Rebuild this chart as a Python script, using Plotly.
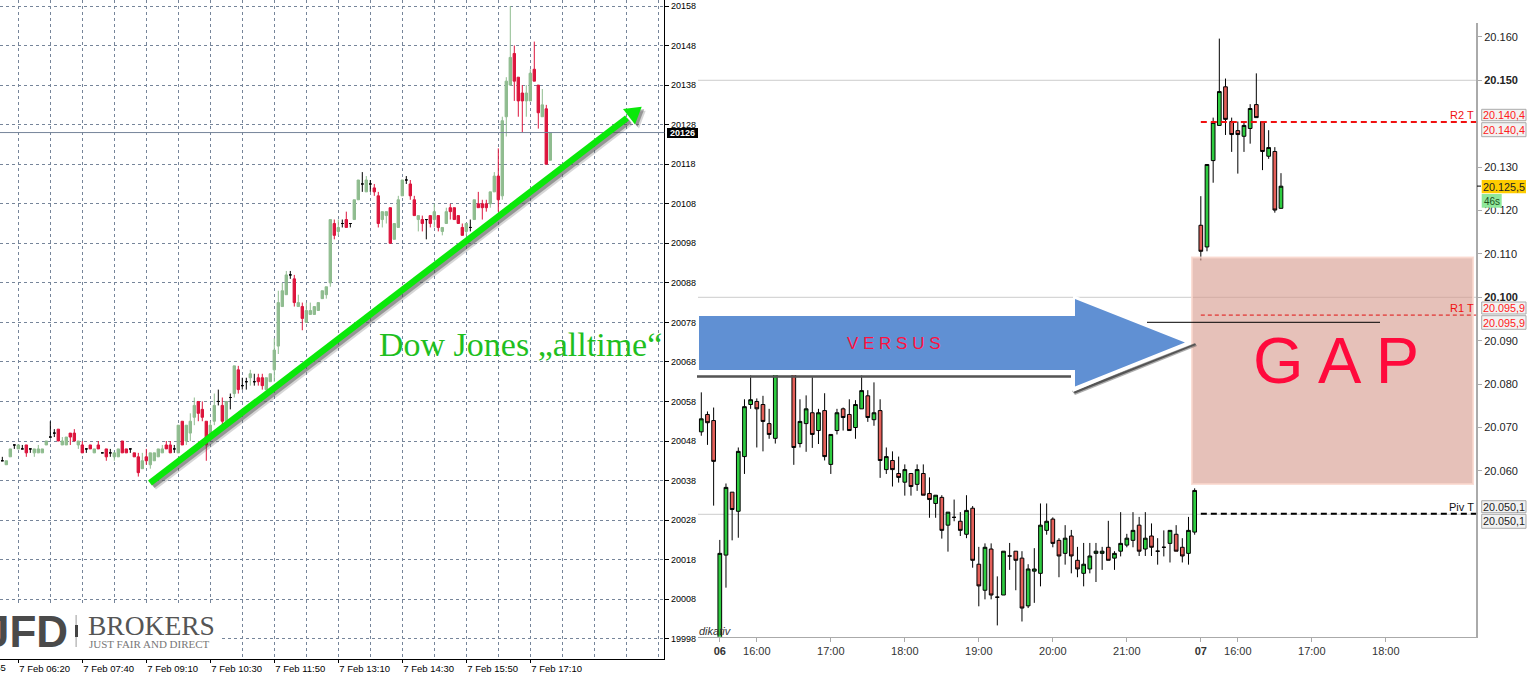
import plotly.graph_objects as go

W, H = 1528, 673

# ---------- left chart (MT4 style, 5 minute bars) ----------
l_open = [20043,20042,20044,20047,20046,20046,20047,20046,20045,20045,20045,20047,20049,20050,20051,20047,20047,20050,20050,20047,
 20047,20046,20047,20045,20047,20045,20046,20045,20044,20044,20048,20046,20046,20045,20044,20041,20044,20042,20043,20044,
 20045,20047,20047,20046,20045,20053,20048,20050,20054,20058,20056,20053,20049,20053,20058,20057,20053,20059,20060,20066,
 20062,20063,20064,20063,20064,20064,20061,20063,20066,20072,20082,20085,20090,20089,20082,20082,20078,20080,20080,20081,
 20084,20085,20088,20103,20101,20103,20104,20103,20104,20109,20113,20111,20113,20112,20110,20104,20105,20107,20099,20102,
 20110,20114,20113,20109,20104,20104,20104,20105,20104,20105,20101,20103,20107,20107,20105,20102,20101,20102,20104,20108,
 20108,20108,20108,20111,20115,20110,20130,20138,20146,20140,20136,20134,20134,20142,20138,20130,20132,20119]
l_high = [20044,20043,20046,20047,20047,20047,20047,20046,20046,20047,20046,20048,20053,20051,20051,20049,20049,20050,20051,20048,
 20048,20046,20047,20046,20048,20045,20046,20046,20045,20046,20048,20046,20046,20045,20045,20045,20046,20045,20045,20046,
 20047,20048,20048,20047,20052,20053,20052,20055,20059,20058,20058,20053,20053,20060,20061,20059,20058,20060,20067,20067,
 20064,20064,20066,20065,20065,20065,20064,20065,20074,20086,20088,20091,20091,20090,20085,20083,20083,20083,20082,20083,
 20086,20087,20104,20104,20104,20104,20106,20103,20109,20114,20116,20115,20114,20113,20111,20106,20106,20107,20103,20110,
 20114,20115,20114,20110,20105,20105,20104,20105,20108,20105,20102,20107,20108,20107,20105,20103,20103,20104,20109,20111,
 20109,20109,20111,20116,20122,20130,20140,20158,20148,20140,20138,20138,20142,20149,20138,20137,20133,20126]
l_low = [20043,20042,20044,20046,20046,20046,20044,20045,20044,20045,20045,20047,20049,20049,20048,20047,20047,20047,20048,20046,
 20045,20045,20046,20045,20046,20045,20043,20044,20043,20044,20045,20045,20045,20044,20039,20041,20042,20041,20043,20044,
 20045,20046,20045,20045,20045,20047,20047,20048,20052,20053,20053,20043,20049,20052,20057,20052,20053,20056,20059,20060,
 20061,20061,20062,20062,20062,20061,20061,20063,20063,20070,20082,20085,20089,20082,20082,20076,20078,20080,20080,20081,
 20084,20084,20087,20099,20100,20102,20102,20102,20104,20109,20111,20111,20111,20110,20102,20102,20103,20098,20099,20102,
 20110,20113,20109,20105,20101,20101,20099,20102,20102,20101,20100,20103,20104,20104,20103,20100,20100,20101,20104,20107,
 20104,20106,20107,20111,20106,20109,20125,20138,20134,20130,20126,20130,20134,20139,20127,20130,20118,20119]
l_close = [20043,20043,20046,20047,20047,20046,20045,20046,20046,20046,20046,20048,20049,20050,20048,20048,20049,20049,20048,20048,
 20045,20046,20046,20046,20046,20045,20044,20045,20045,20046,20045,20045,20046,20044,20040,20043,20043,20045,20045,20046,
 20046,20046,20045,20046,20052,20047,20052,20053,20057,20055,20054,20047,20052,20057,20058,20053,20058,20059,20067,20061,
 20062,20063,20065,20063,20063,20062,20064,20065,20071,20083,20086,20090,20090,20083,20083,20079,20081,20081,20082,20083,
 20086,20087,20104,20100,20102,20103,20102,20103,20109,20114,20113,20114,20113,20111,20103,20106,20106,20098,20103,20109,
 20114,20114,20110,20105,20105,20103,20104,20103,20106,20102,20102,20106,20106,20104,20103,20100,20103,20102,20109,20107,
 20107,20107,20111,20115,20109,20129,20139,20145,20139,20134,20134,20136,20141,20139,20131,20133,20118,20126]

l_price_ticks = [20158,20148,20138,20128,20118,20108,20098,20088,20078,20068,20058,20048,20038,20028,20018,20008,19998]
l_time_labels = ["7 Feb 06:20","7 Feb 07:40","7 Feb 09:10","7 Feb 10:30","7 Feb 11:50","7 Feb 13:10","7 Feb 14:30","7 Feb 15:50","7 Feb 17:10"]
l_time_bars = [4,20,36,52,68,84,100,116,132]
l_grid_bars = [12,28,44,60,76,92,108,124,140,148,156,164]
l_last = 20126

# ---------- right chart ----------
r_open = [20069.0,20073.0,20071.6,20021.1,20040.6,20055.1,20050.7,20063.3,20075.3,20076.0,20075.3,20070.9,20067.5,20085.0,20090.0,20086.0,
 20066.3,20070.9,20073.4,20069.3,20073.9,20061.5,20069.3,20074.3,20073.0,20070.0,20074.3,20077.3,20071.8,20073.9,20060.3,20062.4,
 20059.4,20057.4,20059.4,20056.9,20059.4,20054.8,20052.5,20053.9,20047.5,20049.3,20048.4,20045.4,20051.4,20038.5,20032.5,20042.0,
 20030.9,20031.4,20040.4,20041.5,20039.9,20028.9,20036.9,20036.4,20046.3,20048.9,20044.0,20041.0,20045.0,20039.4,20036.4,20037.4,
 20041.0,20041.0,20042.4,20039.9,20041.5,20042.9,20044.0,20047.5,20042.0,20045.0,20041.5,20042.4,20043.3,20045.4,20042.4,20041.0,
 20045.9,20116.6,20111.6,20131.5,20139.6,20148.5,20140.5,20138.4,20137.1,20138.9,20144.4,20140.5,20132.5,20133.6,20120.5]
r_high = [20078.1,20073.7,20074.6,20044.1,20057.1,20055.1,20065.4,20076.5,20082.0,20076.7,20077.3,20074.3,20088.0,20092.0,20093.0,20088.0,
 20076.5,20077.4,20081.6,20074.3,20077.9,20068.4,20074.3,20074.6,20076.5,20076.3,20082.0,20078.6,20080.4,20076.5,20065.4,20064.5,
 20063.3,20061.5,20059.4,20061.5,20061.5,20058.5,20054.4,20054.4,20050.5,20053.4,20050.5,20054.4,20051.9,20042.5,20043.3,20043.3,
 20035.7,20041.5,20043.4,20041.5,20041.5,20038.5,20042.2,20052.5,20052.5,20049.3,20044.5,20047.5,20046.4,20042.5,20043.4,20043.4,
 20043.4,20042.5,20048.5,20041.5,20050.5,20045.5,20050.5,20049.4,20050.5,20047.9,20044.5,20046.3,20046.3,20047.5,20044.5,20049.4,
 20056.0,20123.3,20130.6,20141.4,20159.6,20150.4,20141.4,20140.5,20140.4,20144.5,20151.6,20140.5,20138.5,20134.6,20128.6]
r_low = [20068.1,20066.0,20052.0,20021.1,20033.1,20044.0,20044.6,20059.3,20074.3,20065.4,20064.5,20067.4,20066.3,20083.5,20084.0,20061.4,
 20065.4,20064.4,20065.3,20066.2,20062.4,20059.3,20068.4,20069.3,20069.3,20067.4,20074.3,20071.3,20070.4,20058.4,20059.3,20056.4,
 20057.3,20054.3,20054.3,20055.4,20054.4,20049.2,20049.2,20044.4,20041.4,20048.4,20045.0,20044.5,20037.7,20028.8,20030.4,20030.4,
 20024.4,20031.4,20037.2,20032.5,20025.3,20028.4,20029.6,20033.4,20045.3,20042.4,20035.5,20038.4,20036.4,20035.5,20033.4,20036.4,
 20034.4,20037.2,20039.4,20037.2,20040.3,20042.4,20042.4,20040.4,20040.4,20040.4,20038.4,20040.3,20038.9,20041.5,20038.9,20038.4,
 20045.3,20108.5,20110.6,20126.4,20139.6,20137.4,20133.5,20128.5,20133.5,20135.4,20141.4,20129.3,20131.9,20119.5,20120.5]
r_close = [20072.0,20071.1,20062.2,20041.0,20056.2,20051.1,20064.5,20074.8,20076.4,20074.3,20071.4,20068.4,20085.0,20090.0,20086.0,20065.4,
 20071.4,20074.3,20068.4,20073.4,20063.3,20068.4,20073.4,20072.3,20069.3,20075.3,20078.5,20072.3,20073.4,20062.4,20063.3,20060.3,
 20058.5,20060.3,20056.4,20060.3,20054.4,20053.4,20054.4,20046.3,20050.5,20049.3,20046.3,20050.9,20039.4,20033.5,20042.4,20031.4,
 20030.9,20041.5,20040.4,20039.4,20028.4,20037.4,20037.4,20047.5,20048.4,20043.3,20040.4,20044.5,20040.4,20037.4,20038.5,20040.4,
 20041.5,20041.5,20039.4,20041.0,20043.3,20044.5,20046.3,20041.5,20044.5,20042.4,20041.5,20042.4,20046.3,20041.5,20040.4,20046.3,
 20055.5,20110.6,20130.6,20140.3,20147.4,20141.0,20137.5,20137.5,20139.6,20143.5,20141.4,20133.6,20134.5,20120.1,20125.6]

r_price_ticks = [20160,20150,20130,20120,20110,20100,20090,20080,20070,20060]
r_price_labels = ["20.160","<b>20.150</b>","20.130","20.120","20.110","<b>20.100</b>","20.090","20.080","20.070","20.060"]
r_time_bars = [3,9,21,33,45,57,69,81,87,99,111]
r_time_labels = ["<b>06</b>","16:00","17:00","18:00","19:00","20:00","21:00","<b>07</b>","16:00","17:00","18:00"]
r_grid = [20150, 20100, 20050]
R2, R1, PIV = 20140.4, 20095.9, 20050.1
GAP_LABEL = "G A P"


def px(x):
    return x / W


def py(y):
    return 1 - y / H


def poly(points, fill, line=None):
    path = "M " + " L ".join(f"{px(a):.5f} {py(b):.5f}" for a, b in points) + " Z"
    return dict(type="path", xref="paper", yref="paper", path=path, fillcolor=fill,
                line=dict(color=line or "rgba(0,0,0,0)", width=1 if line else 0))


def rect(x0, y0, x1, y1, fill, line=None, lw=1):
    return dict(type="rect", xref="paper", yref="paper", x0=px(x0), x1=px(x1), y0=py(y0), y1=py(y1),
                fillcolor=fill, line=dict(color=line or "rgba(0,0,0,0)", width=lw if line else 0))


def label(x, y, text, size, color, anchor="left", family="Liberation Sans", **kw):
    return dict(xref="paper", yref="paper", x=px(x), y=py(y), text=text, showarrow=False, xanchor=anchor,
                yanchor="middle", font=dict(family=family, size=size, color=color), borderpad=0, **kw)


fig = go.Figure()

# left candles
idx = list(range(len(l_open)))
L_UP, L_DN = "#8fbc8f", "#dc143c"
keep = [i for i in idx if l_open[i] != l_close[i]]
doji = [i for i in idx if l_open[i] == l_close[i]]
fig.add_trace(go.Candlestick(x=keep, open=[l_open[i] for i in keep], high=[l_high[i] for i in keep],
                             low=[l_low[i] for i in keep], close=[l_close[i] for i in keep],
                             increasing=dict(line=dict(color=L_UP, width=1), fillcolor=L_UP),
                             decreasing=dict(line=dict(color=L_DN, width=1), fillcolor=L_DN),
                             whiskerwidth=0, showlegend=False, xaxis="x", yaxis="y"))
fig.add_trace(go.Candlestick(x=doji, open=[l_open[i] for i in doji], high=[l_high[i] for i in doji],
                             low=[l_low[i] for i in doji], close=[l_close[i] for i in doji],
                             increasing=dict(line=dict(color="#000", width=1), fillcolor="#000"),
                             decreasing=dict(line=dict(color="#000", width=1), fillcolor="#000"),
                             whiskerwidth=0, showlegend=False, xaxis="x", yaxis="y"))

# right candles
fig.add_trace(go.Candlestick(x=list(range(len(r_open))), open=r_open, high=r_high, low=r_low, close=r_close,
                             increasing=dict(line=dict(color="#000", width=1), fillcolor="#2ecc40"),
                             decreasing=dict(line=dict(color="#000", width=1), fillcolor="#e4605a"),
                             whiskerwidth=0, showlegend=False, xaxis="x2", yaxis="y2"))

GRID = "#76859a"
shapes = []
# last price line, left
shapes.append(dict(type="line", xref="x", yref="y", x0=-1, x1=166, y0=l_last, y1=l_last, line=dict(color=GRID, width=1)))

# logo patch
shapes.append(rect(0, 603, 220, 657, "#fff"))
shapes.append(rect(75.6, 615, 76.6, 647, "#9a9a9a"))
shapes.append(rect(75, 625, 78, 637, "#444"))

# green arrow
s, t = (150.0, 483.0), (641.7, 106.7)
nx, ny = 0.608, 0.794
j = (627.0, 118.0)
hw = 3.2
shaft = [(s[0]+nx*hw, s[1]+ny*hw), (j[0]+nx*hw, j[1]+ny*hw), (j[0]-nx*hw, j[1]-ny*hw), (s[0]-nx*hw, s[1]-ny*hw)]
head = [(623, 109), t, (635, 124.5)]
for off, col in ((4, "rgba(90,90,90,0.25)"), (2.5, "rgba(70,70,70,0.45)")):
    shapes.append(poly([(a+off, b+off) for a, b in shaft], col))
    shapes.append(poly([(a+off, b+off) for a, b in head], col))
GREEN = "#0ae80a"
shapes.append(poly(shaft, GREEN))
shapes.append(poly(head, GREEN))

# pink gap block
shapes.append(dict(type="rect", xref="paper", yref="paper", x0=px(1192), x1=px(1473), y0=py(484), y1=py(257.5),
                   fillcolor="rgba(213,152,138,0.6)", line=dict(color="rgba(250,215,205,0.8)", width=2)))

# blue arrow
shapes.append(rect(697, 375, 1071, 378, "rgba(90,90,90,0.55)"))
shapes.append(rect(697, 375.5, 1071, 377.5, "#555"))
shapes.append(poly([(1072, 391), (1195, 343), (1197, 346), (1075, 395)], "rgba(90,90,90,0.5)"))
shapes.append(poly([(1073, 391.5), (1195, 343.5), (1196, 345), (1075, 393.5)], "#555"))
shapes.append(rect(698, 312, 1073, 375, "#fff"))
shapes.append(poly([(1073, 295), (1191, 342.5), (1073, 392)], "#fff"))
BLUE = "#6090d3"
shapes.append(poly([(699, 316), (1075, 316), (1075, 299), (1185, 342.5), (1075, 386.5), (1075, 370), (699, 370)], BLUE))

# pivot lines
shapes.append(dict(type="line", xref="paper", yref="paper", x0=px(1147), x1=px(1380), y0=py(322.3), y1=py(322.3),
                   line=dict(color="#000", width=1)))
for lvl, col, wd in ((R2, "#f01010", 2), (R1, "#e01010", 1), (PIV, "#000", 2)):
    shapes.append(dict(type="line", xref="x2", yref="y2", x0=81, x1=125.67, y0=lvl, y1=lvl,
                       line=dict(color=col, width=wd, dash="6px,4px" if wd == 2 else "4px,3px")))

# price boxes
BOX = "#f2f2f2"
for y0, y1 in ((109.3, 120.7), (122.7, 136.7), (302, 314), (315.7, 329.3), (500.7, 512.7), (514.3, 528.3)):
    shapes.append(rect(1481.7, y0, 1526, y1, BOX, "#aaaaaa"))
shapes.append(rect(1481.7, 180, 1526, 193.3, "#ffcc00"))
shapes.append(rect(1481.7, 194, 1501.7, 207.7, "#8fe89a"))
shapes.append(rect(1477, 185.6, 1481, 186.6, "#000"))
# left last-price tag
shapes.append(rect(667, 128, 698, 138, "#000"))

ann = [
    label(378, 345, "Dow Jones „alltime“", 34, "#1fbf1f", family="Liberation Serif"),
    label(894, 343, "V E R S U S", 17, "#ff1040", anchor="center"),
    label(1335.5, 360, GAP_LABEL, 65, "#ff0a3c", anchor="center"),
    label(69, 631, "<b>JFD</b>", 44, "#4a4a4a", anchor="right"),
    label(87, 625, "BROKERS", 27.5, "#555555", family="Liberation Serif"),
    label(88, 644, "JUST FAIR AND DIRECT", 11, "#777777", family="Liberation Serif"),
    label(-46, 667, "7 Feb 04:55", 9.5, "#000"),
    label(682.5, 133, "<b>20126</b>", 9, "#fff", anchor="center"),
    label(1475, 115, "R2 T", 11, "#f01010", anchor="right"),
    label(1475, 308, "R1 T", 11, "#f01010", anchor="right"),
    label(1475, 507, "Piv T", 11, "#111", anchor="right"),
    label(1503.8, 115, "20.140,4", 10.8, "#ff2020", anchor="center"),
    label(1503.8, 129.5, "20.140,4", 10.8, "#ff2020", anchor="center"),
    label(1503.8, 308, "20.095,9", 10.8, "#ff2020", anchor="center"),
    label(1503.8, 322.5, "20.095,9", 10.8, "#ff2020", anchor="center"),
    label(1503.8, 506.7, "20.050,1", 10.8, "#222", anchor="center"),
    label(1503.8, 521.3, "20.050,1", 10.8, "#222", anchor="center"),
    label(1503.8, 186.7, "20.125,5", 10.8, "#222", anchor="center"),
    label(1491.7, 201, "46s", 10, "#205020", anchor="center"),
    label(698, 631, "<i>dikativ</i>", 11, "#333"),
]

fig.update_layout(
    width=W, height=H, margin=dict(l=0, r=0, t=0, b=0), paper_bgcolor="#fff", plot_bgcolor="#fff",
    showlegend=False, boxgap=0.4, boxgroupgap=0, shapes=shapes, annotations=ann,
    xaxis=dict(domain=[0, 664.3 / W], range=[-0.58, 165.5], rangeslider=dict(visible=False),
               tickmode="array", tickvals=l_time_bars, ticktext=l_time_labels, ticks="outside", ticklen=3,
               tickcolor="#000", showline=True, linecolor="#000", linewidth=1, mirror=False,
               ticklabelposition="outside right", tickfont=dict(family="Liberation Sans", size=9.5, color="#000"),
               showgrid=True, gridcolor=GRID, griddash="3px,3px", gridwidth=1, zeroline=False, anchor="y",
               minor=dict(tickmode="array", tickvals=l_grid_bars, showgrid=True, gridcolor=GRID,
                          griddash="3px,3px", gridwidth=1, ticks="")),
    yaxis=dict(domain=[1 - 659.3 / H, 1], range=[19992.8, 20159.52], side="right", anchor="x",
               tickmode="array", tickvals=l_price_ticks, tickformat="d", ticks="outside", ticklen=4, tickcolor="#000",
               showline=True, linecolor="#000", linewidth=1, tickfont=dict(family="Liberation Sans", size=9, color="#000"),
               showgrid=True, gridcolor=GRID, griddash="3px,3px", gridwidth=1, zeroline=False),
    xaxis2=dict(domain=[698 / W, 1476.3 / W], range=[-0.535, 125.67], rangeslider=dict(visible=False),
                tickmode="array", tickvals=r_time_bars, ticktext=r_time_labels, ticks="outside", ticklen=4,
                tickcolor="#aaaaaa", showline=True, linecolor="#aaaaaa", linewidth=1,
                tickfont=dict(family="Liberation Sans", size=11, color="#333"),
                showgrid=False, zeroline=False, anchor="y2"),
    yaxis2=dict(domain=[1 - 636.7 / H, 1 - 23 / H], range=[20021.8, 20163.2], side="right", anchor="x2",
                tickmode="array", tickvals=r_price_ticks, ticktext=r_price_labels, ticks="outside", ticklen=4,
                tickcolor="#aaaaaa", showline=True, linecolor="#aaaaaa", linewidth=1.5,
                tickfont=dict(family="Liberation Sans", size=11, color="#222"),
                showgrid=False, zeroline=False),
)
# horizontal reference lines of the right chart, below the candles
for g in r_grid:
    fig.add_shape(type="line", xref="x2", yref="y2", x0=-0.535, x1=125.67, y0=g, y1=g, layer="below",
                  line=dict(color="#cccccc", width=1))

fig.write_html("out.html", config={"displayModeBar": False},
               post_script="document.body.style.margin='0';document.body.style.overflow='hidden';")
